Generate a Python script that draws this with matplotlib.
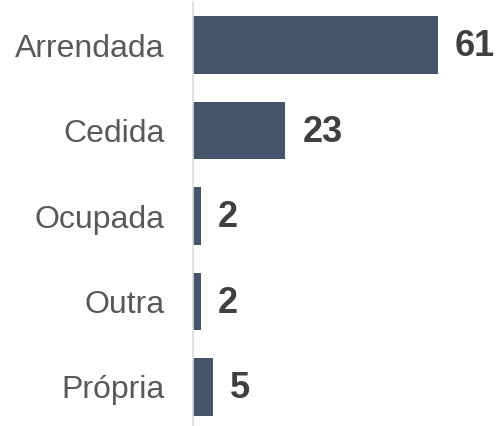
import matplotlib
matplotlib.use('Agg')
import matplotlib.pyplot as plt

categorias = ['Arrendada', 'Cedida', 'Ocupada', 'Outra', 'Própria']
valores = [61, 23, 2, 2, 5]

plt.rcParams['font.family'] = ['Liberation Sans', 'DejaVu Sans']

fig = plt.figure(figsize=(5, 4.26), dpi=100)
ax = fig.add_axes([0.386, -0.0088, 0.614, 1.0035])

pos = list(range(len(categorias)))
ax.barh(pos, valores, height=0.667, color='#44546a')
ax.set_ylim(4.5, -0.5)
ax.set_xlim(0, 76.4)

for p, v in zip(pos, valores):
    ax.text(v + 4.2, p + 0.02, str(v), va='center', ha='left',
            fontsize=26, fontweight='bold', color='#404040')

ax.set_yticks(pos)
ax.set_yticklabels(categorias, fontsize=23, color='#595959')
ax.tick_params(axis='y', length=0, pad=20.5)
ax.set_xticks([])
for s in ['top', 'right', 'bottom']:
    ax.spines[s].set_visible(False)
ax.spines['left'].set_color('#d9d9d9')
ax.spines['left'].set_linewidth(1.2)

fig.savefig('out.png', dpi=100)
